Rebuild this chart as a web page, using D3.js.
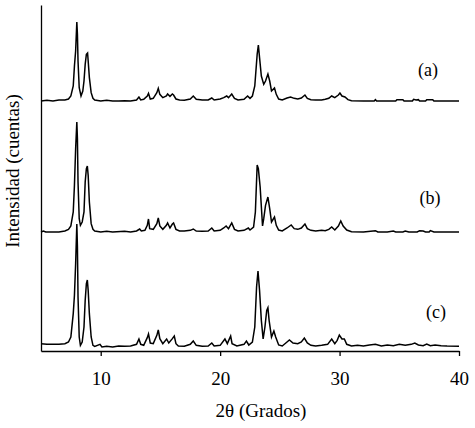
<!DOCTYPE html>
<html><head><meta charset="utf-8">
<script src="https://cdn.jsdelivr.net/npm/d3@7"></script>
<style>body{margin:0;background:#fff}svg{display:block}</style>
</head><body>
<svg id="c" width="475" height="428"></svg>
<script>
const xTicks = [10, 20, 30, 40];
const seriesLabels = ["(a)", "(b)", "(c)"];
const offsets = [750, 357, 12];

const seriesA = [[5.0,0],[5.5,2],[6.0,0],[6.5,3],[7.0,3],[7.3,6],[7.5,15],[7.7,45],[7.8,105],[7.9,150],[8.0,237],[8.05,200],[8.1,120],[8.2,40],[8.35,15],[8.5,30],[8.6,60],[8.7,110],[8.8,140],[8.9,144],[8.95,120],[9.05,70],[9.2,25],[9.35,8],[9.5,3],[10,0],[10.5,2],[11,0],[11.5,0],[12,1],[12.5,0],[13.0,3],[13.2,12],[13.35,3],[13.6,5],[13.9,15],[14.0,23],[14.15,6],[14.4,8],[14.7,25],[14.82,38],[14.95,20],[15.2,10],[15.5,15],[15.6,21],[15.8,14],[16.0,21],[16.1,18],[16.3,6],[16.6,3],[17.0,2],[17.5,6],[17.75,15],[18.0,5],[18.5,3],[19.0,3],[19.3,9],[19.5,3],[20.0,6],[20.3,10],[20.55,15],[20.7,10],[20.97,21],[21.2,8],[21.5,3],[22.0,5],[22.3,15],[22.5,8],[22.7,15],[22.9,45],[23.1,140],[23.2,168],[23.3,130],[23.45,75],[23.65,50],[23.8,60],[24.0,81],[24.15,60],[24.3,30],[24.55,39],[24.7,20],[24.9,6],[25.2,3],[25.6,9],[25.9,12],[26.2,8],[26.5,6],[26.8,9],[27.1,18],[27.3,8],[27.6,4],[28.0,3],[28.5,3],[28.8,5],[29.1,8],[29.34,15],[29.6,10],[29.9,18],[30.03,24],[30.2,15],[30.45,12],[30.7,4],[31.0,1],[32,0],[32.9,0],[33.0,4],[33.1,0],[34,0],[34.7,0],[34.8,4],[35.3,4],[35.4,0],[36.1,0],[36.2,5],[36.4,3],[36.6,4],[36.7,0],[37.2,0],[37.3,4],[37.8,4],[37.9,0],[40,0]];

const seriesB = [[5.0,0],[5.2,3],[5.4,0],[6.5,0],[7.0,3],[7.3,8],[7.5,18],[7.7,60],[7.8,140],[7.9,250],[8.0,330],[8.05,280],[8.1,150],[8.2,40],[8.3,20],[8.45,30],[8.6,60],[8.7,150],[8.8,190],[8.88,198],[8.95,170],[9.05,90],[9.2,25],[9.35,8],[9.5,3],[10,0],[10.5,2],[11,0],[12,2],[12.5,0],[13.0,3],[13.26,9],[13.4,3],[13.7,5],[13.9,20],[14.0,39],[14.1,10],[14.4,8],[14.7,25],[14.82,42],[14.95,18],[15.2,8],[15.5,20],[15.6,27],[15.8,12],[16.0,24],[16.1,27],[16.3,8],[16.6,3],[17.0,3],[17.5,5],[17.75,9],[18.0,3],[18.5,2],[19.0,3],[19.3,12],[19.5,3],[20.0,5],[20.3,12],[20.5,18],[20.7,10],[20.97,27],[21.2,8],[21.5,3],[22.0,5],[22.36,12],[22.5,6],[22.8,15],[22.95,60],[23.1,201],[23.2,190],[23.35,135],[23.55,18],[23.65,40],[23.8,80],[24.0,105],[24.15,70],[24.3,30],[24.55,45],[24.7,20],[24.9,6],[25.2,3],[25.6,12],[25.95,21],[26.2,10],[26.5,8],[26.8,12],[27.1,24],[27.3,10],[27.6,5],[28.0,3],[28.5,5],[28.8,4],[29.1,8],[29.34,15],[29.6,6],[29.9,18],[30.1,33],[30.3,18],[30.6,6],[31.0,1],[32.0,0],[33.0,4],[33.2,0],[34.0,0],[34.5,3],[34.7,0],[35.3,0],[35.5,3],[35.8,0],[36.5,0],[36.7,4],[37.0,3],[37.2,0],[37.5,0],[37.6,4],[37.9,0],[38.5,0],[39,0],[40,0]];

const seriesC = [[5.0,10],[5.5,8],[6.0,8],[6.5,8],[7.0,10],[7.3,15],[7.5,30],[7.7,100],[7.8,155],[7.9,250],[8.0,369],[8.05,300],[8.1,150],[8.2,30],[8.3,5],[8.45,15],[8.6,60],[8.7,140],[8.8,190],[8.88,201],[8.95,170],[9.05,100],[9.2,30],[9.35,5],[9.5,2],[9.94,8],[10.1,0],[10.5,2],[11.0,0],[11.5,3],[12.0,2],[12.5,3],[13.0,8],[13.2,24],[13.35,8],[13.6,5],[13.9,28],[14.0,39],[14.15,12],[14.4,10],[14.7,35],[14.82,51],[14.95,25],[15.2,10],[15.52,24],[15.7,12],[16.0,25],[16.16,33],[16.3,10],[16.5,3],[17.0,2],[17.5,8],[17.75,18],[18.0,5],[18.5,2],[19.0,3],[19.3,12],[19.5,3],[20.0,5],[20.4,24],[20.6,10],[20.88,33],[21.0,10],[21.4,3],[22.0,8],[22.2,18],[22.4,6],[22.7,15],[22.9,60],[23.05,180],[23.17,228],[23.3,170],[23.45,80],[23.6,24],[23.75,60],[23.9,110],[24.0,118],[24.1,80],[24.3,30],[24.5,48],[24.65,30],[24.9,6],[25.2,3],[25.6,15],[25.8,21],[26.1,12],[26.5,10],[26.8,15],[27.05,27],[27.3,12],[27.6,5],[28.0,3],[28.5,5],[29.0,8],[29.34,24],[29.6,10],[29.8,20],[29.98,36],[30.2,24],[30.4,24],[30.6,8],[31.0,3],[31.5,5],[32.0,3],[32.5,6],[33.0,8],[33.5,3],[34.0,6],[34.5,4],[35.0,8],[35.5,5],[36.0,8],[36.3,12],[36.6,6],[37.0,4],[37.3,9],[37.6,4],[38.0,6],[38.5,4],[39.0,3],[40,2]];

const allSeries = [seriesA, seriesB, seriesC];

const svg = d3.select("#c");
const font = "'Liberation Serif','Times New Roman',serif";
const x = d3.scaleLinear().domain([5, 40]).range([41, 459]);
const y = d3.scaleLinear().domain([0, 1038]).range([351, 5]);

// left axis line
svg.append("g").attr("transform", "translate(41,0)")
  .call(d3.axisLeft(y).ticks(0).tickSizeOuter(0))
  .call(g => g.select(".domain").attr("stroke", "#000").attr("stroke-width", 1.3));

// bottom axis
svg.append("g").attr("transform", "translate(0,351)")
  .call(d3.axisBottom(x).tickValues(xTicks).tickSizeInner(5).tickSizeOuter(0).tickPadding(16))
  .call(g => {
    g.select(".domain").attr("stroke", "#000").attr("stroke-width", 1.5);
    g.selectAll(".tick line").attr("stroke", "#000").attr("stroke-width", 1.3);
    g.selectAll(".tick text").attr("font-family", font).attr("font-size", 19).attr("fill", "#000");
  });

const line = d3.line().x(d => x(d[0]));
allSeries.forEach((s, i) => {
  svg.append("path")
    .datum(s)
    .attr("fill", "none")
    .attr("stroke", "#000")
    .attr("stroke-width", 1.5)
    .attr("d", line.y(d => y(d[1] + offsets[i])));
});

// series labels
const labelPos = [[428, 76], [430, 204], [436, 318]];
seriesLabels.forEach((t, i) => {
  svg.append("text").attr("x", labelPos[i][0]).attr("y", labelPos[i][1])
    .attr("text-anchor", "middle").attr("font-family", font).attr("font-size", 18)
    .text(t);
});

// axis titles
svg.append("text").attr("x", 261).attr("y", 417).attr("text-anchor", "middle")
  .attr("font-family", font).attr("font-size", 19).text("2θ (Grados)");
svg.append("text").attr("transform", "translate(19,171) rotate(-90)")
  .attr("text-anchor", "middle").attr("font-family", font).attr("font-size", 19)
  .text("Intensidad (cuentas)");
</script>
</body></html>
